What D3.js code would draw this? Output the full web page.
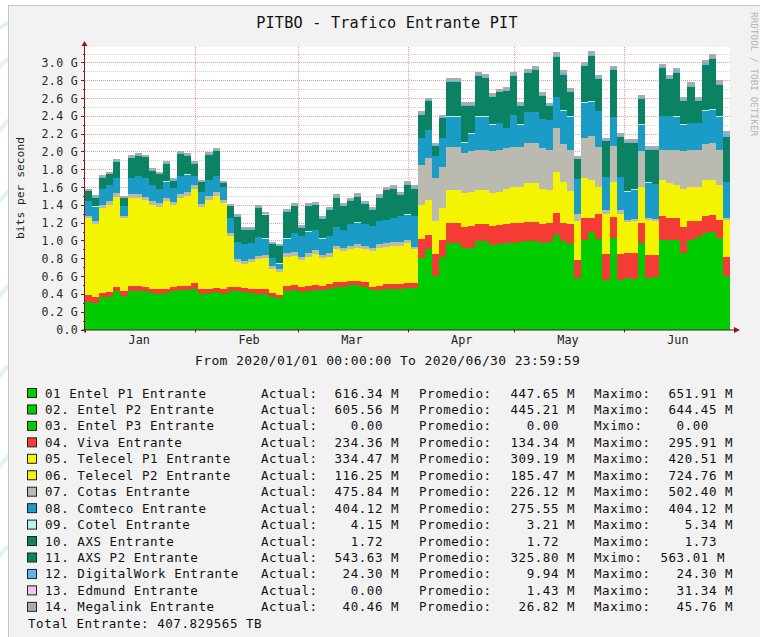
<!DOCTYPE html>
<html><head><meta charset="utf-8">
<script src="https://cdn.jsdelivr.net/npm/d3@7"></script>
<style>
body{margin:0;background:#fff}
svg{display:block}
text{font-family:"DejaVu Sans Mono",monospace}
</style>
</head><body>
<svg id="c" width="760" height="637"></svg>
<script>
// ---------- DATA (values in Mbit/s, one value per 2-day step from 2020-01-01) ----------
const periodStart = new Date(2020, 0, 1);
const periodEnd = new Date(2020, 6, 1);
const stepDays = 2;

const entelP1 = [160,155,185,190,220,195,220,220,220,210, 205,210,220,225,225,235,205,210,215,205,
 220,220,215,210,205,205,185,180,220,225, 215,220,225,225,230,245,245,255,255,245,
 225,225,235,235,235,240,240,405,455,305, 415,490,490,465,465,500,500,480,485,490,
 490,495,500,500,490,495,535,500,485,295, 505,550,515,285,520,285,295,290,490,295,
 300,510,505,505,435,505,525,545,550,520, 305];
const entelP2 = [150,145,175,180,210,185,210,210,210,200, 195,200,210,215,215,225,195,200,205,195,
 210,210,205,200,195,195,175,170,210,215, 205,210,215,215,220,235,235,245,245,235,
 215,215,225,225,225,230,230,395,445,295, 405,480,480,455,455,490,490,470,475,480,
 480,485,490,490,480,485,525,490,475,285, 495,540,505,275,510,275,285,280,480,285,
 290,500,495,495,425,495,515,535,540,510, 295];
const entelP3 = [0,0,0,0,0,0,0,0,0,0, 0,0,0,0,0,0,0,0,0,0, 0,0,0,0,0,0,0,0,0,0, 0,0,0,0,0,0,0,0,0,0,
 0,0,0,0,0,0,0,0,0,0, 0,0,0,0,0,0,0,0,0,0, 0,0,0,0,0,0,0,0,0,0, 0,0,0,0,0,0,0,0,0,0,
 0,0,0,0,0,0,0,0,0,0, 0];
const viva = [80,60,50,50,50,50,60,60,50,50, 50,50,50,50,50,60,60,50,50,60,
 50,50,50,50,50,50,50,40,60,60, 60,60,60,50,60,50,50,50,50,50,
 40,50,50,50,50,50,50,220,160,250, 180,230,230,230,240,190,190,210,210,210,
 230,220,220,220,210,220,250,210,220,200, 250,160,280,290,230,290,280,290,230,260,
 250,260,250,250,290,220,180,200,200,200, 220];
const telecelP1 = [340,330,350,360,370,320,360,360,350,350, 340,360,340,360,370,380,340,370,380,360,
 320,240,230,260,290,300,230,220,280,280, 260,280,300,260,260,310,300,300,320,320,
 350,370,360,370,370,390,330,320,330,310, 310,300,300,310,320,320,320,300,310,330,
 330,330,360,360,330,300,380,380,310,360, 370,350,240,370,330,370,290,300,330,320,
 310,340,330,300,350,310,310,330,320,320, 340];
const telecelP2 = [520,490,600,620,640,500,630,630,620,590, 590,620,580,630,640,680,580,630,650,600,
 250,40,40,40,50,50,40,40,50,50, 40,50,50,50,50,60,50,50,50,50,
 50,60,60,60,60,60,50,60,70,60, 60,70,70,70,70,70,70,70,70,70,
 70,70,80,80,70,70,80,80,70,80, 80,80,60,80,70,80,60,60,70,70,
 70,70,70,70,80,70,70,70,70,70, 70];
const cotas = [30,40,40,40,40,30,40,40,40,40, 40,40,30,40,40,40,30,40,40,40,
 30,30,30,30,40,40,30,30,40,40, 40,40,40,40,40,40,40,40,40,40,
 40,40,40,40,40,30,30,450,470,480, 460,480,480,450,450,450,450,470,470,460,
 450,450,440,440,460,450,490,420,460,80, 450,490,450,40,400,40,20,20,400,20,
 20,340,370,400,420,420,420,400,410,400, 20];
const comteco = [160,160,180,180,170,110,180,200,210,180, 160,180,160,200,200,100,130,180,180,140,
 170,190,190,180,210,180,90,60,160,210, 230,240,230,180,190,210,200,240,240,240,
 240,260,260,270,290,290,340,300,310,250, 320,340,340,120,200,370,370,300,300,220,
 360,250,350,350,320,330,350,380,370,390, 400,390,400,370,330,370,320,330,300,400,
 390,380,380,370,300,300,300,380,380,370, 404];
const cotel = [3,3,3,4,3,3,4,4,3,3, 3,4,3,4,4,3,3,4,4,3, 3,3,3,3,3,3,2,2,3,3, 3,3,3,3,3,3,3,3,3,3,
 3,3,3,3,3,4,4,4,4,4, 4,5,5,4,4,5,5,4,4,4, 5,4,4,5,5,4,4,5,5,3, 4,5,4,4,3,5,3,3,4,3,
 3,4,4,5,4,4,4,4,5,5, 4];
// AXS Entrante is in bit/s (1.72 b/s)
const axsBits = [1.72,1.72,1.73,1.72,1.72,1.72,1.72,1.73,1.72,1.72, 1.72,1.72,1.72,1.73,1.72,1.72,1.72,1.72,1.72,1.72,
 1.72,1.73,1.72,1.72,1.72,1.72,1.72,1.72,1.73,1.72, 1.72,1.72,1.72,1.72,1.72,1.73,1.72,1.72,1.72,1.72,
 1.72,1.72,1.72,1.73,1.72,1.72,1.72,1.72,1.72,1.72, 1.73,1.72,1.72,1.72,1.72,1.72,1.72,1.73,1.72,1.72,
 1.72,1.72,1.72,1.72,1.73,1.72,1.72,1.72,1.72,1.72, 1.72,1.72,1.73,1.72,1.72,1.72,1.72,1.72,1.72,1.73,
 1.72,1.72,1.72,1.72,1.72,1.72,1.73,1.72,1.72,1.72, 1.72];
const axsP2 = [110,100,120,120,180,80,220,230,230,160, 160,200,80,250,210,140,110,280,280,40,
 130,280,160,150,320,260,160,200,300,300, 90,280,280,220,290,330,260,260,290,230,
 180,260,330,330,240,330,310,260,320,110, 220,390,390,410,310,450,430,310,340,420,
 430,210,440,470,260,160,450,400,270,220, 410,510,360,400,520,450,540,520,290,360,
 380,530,410,490,260,400,240,510,560,350, 510];
const digitalWork = [5,5,6,6,7,5,7,7,7,6, 6,7,5,8,7,6,6,8,8,5, 6,7,6,6,8,7,5,5,7,8, 6,8,8,7,8,9,8,8,9,8,
 7,9,9,9,8,9,9,9,10,7, 9,11,11,10,10,12,12,10,10,11, 12,9,12,13,10,9,14,12,11,8, 12,14,12,10,13,10,11,11,11,12,
 12,14,13,15,11,13,11,15,16,14, 24];
const edmund = [0,0,0,0,0,0,0,0,0,0, 0,0,0,0,0,0,0,0,0,0, 0,0,0,0,0,4,3,0,0,0, 0,0,0,0,0,0,0,0,0,0,
 0,0,0,0,0,0,0,0,0,0, 0,0,0,0,0,0,0,0,0,0, 3,2,0,0,0,0,0,0,0,0, 0,0,0,0,0,2,2,0,0,0,
 0,0,0,0,0,2,0,0,0,0, 0];
const megalink = [20,20,22,22,24,18,25,25,25,22, 22,24,20,26,25,22,20,27,27,18, 20,24,22,22,26,24,18,18,26,26,
 22,27,27,24,27,28,26,26,28,26, 24,28,30,30,26,30,28,30,32,22, 28,34,34,30,30,36,35,30,32,33,
 36,28,36,38,30,26,40,36,32,24, 35,40,34,30,38,30,32,32,32,34, 34,40,38,42,32,38,32,42,45,40, 40];

const seriesKeys = ["entelP1","entelP2","entelP3","viva","telecelP1","telecelP2","cotas","comteco",
  "cotel","axs","axsP2","digitalWork","edmund","megalink"];
const seriesValues = {entelP1, entelP2, entelP3, viva, telecelP1, telecelP2, cotas, comteco,
  cotel, axs: axsBits.map(v => v / 1e6), axsP2, digitalWork, edmund, megalink};

const legendLabels = ["01 Entel P1 Entrante","02. Entel P2 Entrante","03. Entel P3 Entrante","04. Viva Entrante",
  "05. Telecel P1 Entrante","06. Telecel P2 Entrante","07. Cotas Entrante","08. Comteco Entrante",
  "09. Cotel Entrante","10. AXS Entrante","11. AXS P2 Entrante","12. DigitalWork Entrante",
  "13. Edmund Entrante","14. Megalink Entrante"];
const actualText = ["616.34 M","605.56 M","0.00","234.36 M","334.47 M","116.25 M","475.84 M","404.12 M",
  "4.15 M","1.72","543.63 M","24.30 M","0.00","40.46 M"];
const promedioText = ["447.65 M","445.21 M","0.00","134.34 M","309.19 M","185.47 M","226.12 M","275.55 M",
  "3.21 M","1.72","325.80 M","9.94 M","1.43 M","26.82 M"];
const maximoText = ["651.91 M","644.45 M","0.00","295.91 M","420.51 M","724.76 M","502.40 M","404.12 M",
  "5.34 M","1.73","563.01 M","24.30 M","31.34 M","45.76 M"];
const maximoLabel = ["Maximo:","Maximo:","Mximo:","Maximo:","Maximo:","Maximo:","Maximo:","Maximo:",
  "Maximo:","Maximo:","Mximo:","Maximo:","Maximo:","Maximo:"];
const totalText = "Total Entrante: 407.829565 TB";

const yTickValues = [0,200,400,600,800,1000,1200,1400,1600,1800,2000,2200,2400,2600,2800,3000];
const yTickLabels = ["0.0","0.2 G","0.4 G","0.6 G","0.8 G","1.0 G","1.2 G","1.4 G","1.6 G","1.8 G",
  "2.0 G","2.2 G","2.4 G","2.6 G","2.8 G","3.0 G"];
const monthLabels = ["Jan","Feb","Mar","Apr","May","Jun"];
const titleText = "PITBO - Trafico Entrante PIT";
const yAxisTitle = "bits per second";
const rangeText = "From 2020/01/01 00:00:00 To 2020/06/30 23:59:59";
const watermark = "RRDTOOL / TOBI OETIKER";

// ---------- STYLE ----------
const colors = {entelP1:"#00CC00", entelP2:"#00CC00", entelP3:"#00CC00", viva:"#F53B35",
  telecelP1:"#F4F400", telecelP2:"#F4F400", cotas:"#BABAB0", comteco:"#1B9CC6",
  cotel:"#B8F2F0", axs:"#0B8262", axsP2:"#0B8262", digitalWork:"#5EB8EE", edmund:"#EEC8EE", megalink:"#ABABAB"};

// ---------- DRAW ----------
const svg = d3.select("#c");
const L = 85, R = 730, T = 47, B = 329.5;

// page + frame
svg.append("rect").attr("width",760).attr("height",637).attr("fill","#fff");
const deco = [[ -4,30,10,22],[-4,70,9,58],[-4,135,8,120],[-4,205,9,190],[-4,300,9,285],[-4,380,8,366],[-4,470,9,455],[-4,560,8,546]];
deco.forEach(d => svg.append("line").attr("x1",d[0]).attr("y1",d[1]).attr("x2",d[2]).attr("y2",d[3])
  .attr("stroke","#dff3f3").attr("stroke-width",4));
svg.append("rect").attr("x",8.5).attr("y",5.5).attr("width",800).attr("height",700)
  .attr("fill","#F2F2F2").attr("stroke","#c8c8c8");
svg.append("rect").attr("x",L).attr("y",T).attr("width",R-L).attr("height",B-T).attr("fill","#fff");

const x = d3.scaleTime().domain([periodStart, periodEnd]).range([L, R]);
const y = d3.scaleLinear().domain([0, 3174]).range([B, T]);

// grid
const g = svg.append("g");
for (let v = 100; v <= 3100; v += 100) {
  const major = v % 200 === 0;
  g.append("line").attr("x1",L).attr("x2",R).attr("y1",Math.round(y(v))+0.5).attr("y2",Math.round(y(v))+0.5)
    .attr("stroke", major ? "#EE9A9A" : "#D2D2D2").attr("stroke-dasharray","1,1");
}
d3.timeMonth.range(new Date(2020,1,1), periodEnd).forEach(d => {
  const xx = Math.round(x(d)) + 0.5;
  g.append("line").attr("x1",xx).attr("x2",xx).attr("y1",T).attr("y2",B)
    .attr("stroke","#EE9A9A").attr("stroke-dasharray","1,1");
});

// data rows
const n = entelP1.length;
const rows = d3.range(n).map(i => {
  const o = {date: d3.timeDay.offset(periodStart, i * stepDays)};
  seriesKeys.forEach(k => o[k] = seriesValues[k][i]);
  return o;
});
rows.push(Object.assign({}, rows[n-1], {date: periodEnd}));
const layers = d3.stack().keys(seriesKeys)(rows);
const area = d3.area().curve(d3.curveStepAfter)
  .x(d => x(d.data.date)).y0(d => y(d[0])).y1(d => y(d[1]));
svg.append("g").selectAll("path").data(layers).join("path")
  .attr("d", area).attr("fill", d => colors[d.key]).attr("shape-rendering","crispEdges");

// axes
const axisColor = "#7a1a1a";
svg.append("line").attr("x1",L-0.5).attr("x2",L-0.5).attr("y1",B+3).attr("y2",T-2).attr("stroke",axisColor);
svg.append("path").attr("d",`M${L-3.5},${T-1}L${L-0.5},${T-6}L${L+2.5},${T-1}Z`).attr("fill","#a01010");
svg.append("line").attr("x1",L-3).attr("x2",R+5).attr("y1",B+0.5).attr("y2",B+0.5).attr("stroke","#402020");
svg.append("path").attr("d",`M${R+4},${B-2.5}L${R+10},${B+0.5}L${R+4},${B+3.5}Z`).attr("fill","#a01010");

for (let v = 0; v <= 3100; v += 100) {
  const yy = Math.round(y(v)) + 0.5;
  svg.append("line").attr("x1", v % 200 === 0 ? L-4 : L-2).attr("x2",L).attr("y1",yy).attr("y2",yy).attr("stroke",axisColor);
}
d3.timeMonth.range(periodStart, periodEnd).forEach(d => {
  const xx = Math.round(x(d)) + 0.5;
  svg.append("line").attr("x1",xx).attr("x2",xx).attr("y1",B).attr("y2",B+3).attr("stroke",axisColor);
});

// y tick labels
svg.append("g").selectAll("text").data(yTickValues).join("text")
  .attr("x",78).attr("y",d => y(d) + 4.5).attr("text-anchor","end")
  .attr("font-size","11.6px").attr("fill","#2a2a2a").attr("letter-spacing","0.3px")
  .text((d,i) => yTickLabels[i]);

// month labels
svg.append("g").selectAll("text").data(monthLabels).join("text")
  .attr("x",(d,i) => x(d3.timeHour.offset(new Date(2020,i,1), 15.3*24)))
  .attr("y",344).attr("text-anchor","middle").attr("font-size","11.8px").attr("fill","#222")
  .text(d => d);

// titles
svg.append("text").attr("x",387).attr("y",28).attr("text-anchor","middle")
  .attr("font-size","15.2px").attr("letter-spacing","0.2px").attr("fill","#111").text(titleText);
svg.append("text").attr("transform","translate(24,188) rotate(-90)").attr("text-anchor","middle")
  .attr("font-size","11.3px").attr("fill","#222").text(yAxisTitle);
svg.append("text").attr("x",195).attr("y",365).attr("font-size","13px").attr("letter-spacing","0.37px")
  .attr("fill","#111").text(rangeText);
svg.append("text").attr("transform","translate(751,12) rotate(90)").attr("font-size","9.4px")
  .attr("fill","#b4b4b4").text(watermark);

// legend
const leg = svg.append("g").attr("font-size","12.5px").attr("fill","#111");
const cw = 8.1;
legendLabels.forEach((lab, i) => {
  const by = 397.5 + 16.45 * i;
  const key = seriesKeys[i];
  leg.append("rect").attr("x",27.5).attr("y",by-9).attr("width",9).attr("height",9)
    .attr("fill",colors[key]).attr("stroke","#222");
  const t = (xx, s, anchor) => leg.append("text").attr("x",xx).attr("y",by)
    .attr("text-anchor",anchor||"start").attr("letter-spacing","0.55px").attr("xml:space","preserve").text(s);
  t(45, lab);
  const val = (str, endX) => {
    const parts = str.split(" ");
    t(endX, parts[0], "end");
    if (parts[1]) t(endX + cw, parts[1]);
  };
  t(261, "Actual:");
  val(actualText[i], 383);
  t(419, "Promedio:");
  val(promedioText[i], 559);
  t(594, maximoLabel[i]);
  val(maximoText[i], maximoLabel[i] === "Mximo:" ? 717 - cw : 717);
});
leg.append("text").attr("x",28).attr("y",397.5 + 16.45*14).attr("letter-spacing","0.55px").text(totalText);
</script>
</body></html>
